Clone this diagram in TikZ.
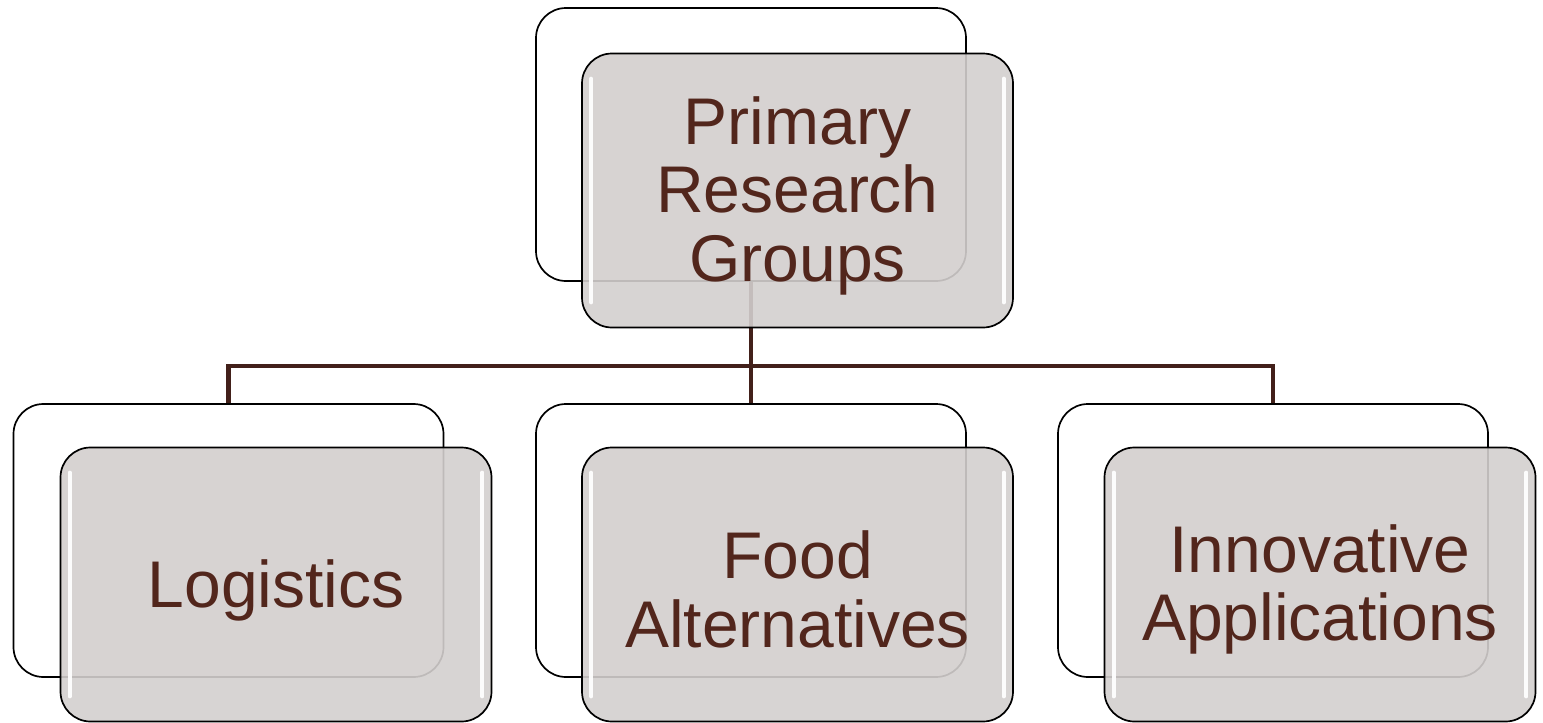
\documentclass[tikz,border=0pt]{standalone}
\usepackage{fontspec}
\setmainfont{Liberation Sans}
\definecolor{txt}{HTML}{52261C}
\definecolor{conn}{HTML}{42201A}
\definecolor{boxfill}{HTML}{D3CFCE}
\begin{document}
\begin{tikzpicture}[x=1pt,y=-1pt,
  backbox/.style={draw=black, line width=1.7pt, rounded corners=30pt, fill=white,
    minimum width=430pt, minimum height=273pt, inner sep=0pt},
  frontbox/.style={draw=black, line width=1.7pt, rounded corners=30pt, fill=boxfill,
    fill opacity=0.9, minimum width=431pt, minimum height=274pt, inner sep=0pt},
  label/.style={text=txt, font=\fontsize{66}{68.5}\selectfont, align=center, inner sep=0pt},
  connline/.style={draw=conn, line width=4.5pt},
  gloss/.style={draw=white, line width=4pt, line cap=round, opacity=0.95}]
\useasboundingbox (0,0) rectangle (1543,723);
% back boxes
\node[backbox] (tb) at (751,144.5) {};
\node[backbox] (lb) at (228.5,540.5) {};
\node[backbox] (mb) at (751,540.5) {};
\node[backbox] (rb) at (1273,540.5) {};
% connectors
\coordinate (j) at (751,366);
\draw[connline] (tb.south) -- (j);
\draw[connline] (j) -| (lb.north);
\draw[connline] (j) -- (mb.north);
\draw[connline] (j) -| (rb.north);
% front boxes
\node[frontbox] (tf) at (797.5,190.5) {};
\node[frontbox] (lf) at (276,584.5) {};
\node[frontbox] (mf) at (797.5,584.5) {};
\node[frontbox] (rf) at (1320,584.5) {};
% gloss highlights
\foreach \f in {tf,lf,mf,rf}{
  \draw[gloss] ([xshift=10pt,yshift=-26pt]\f.north west) -- ([xshift=10pt,yshift=26pt]\f.south west);
  \draw[gloss] ([xshift=-10pt,yshift=-26pt]\f.north east) -- ([xshift=-10pt,yshift=26pt]\f.south east);
}
% labels
\node[label] (tt) at ([yshift=-5pt]tf.center) {Primary\\Research\\Groups};
\node[label] (lt) at ([yshift=-6pt]lf.center) {Logistics};
\node[label] (mt) at ([yshift=-5pt]mf.center) {Food\\Alternatives};
\node[label] (rt) at ([yshift=-5pt]rf.center) {Innovative\\Applications};
\end{tikzpicture}
\end{document}
